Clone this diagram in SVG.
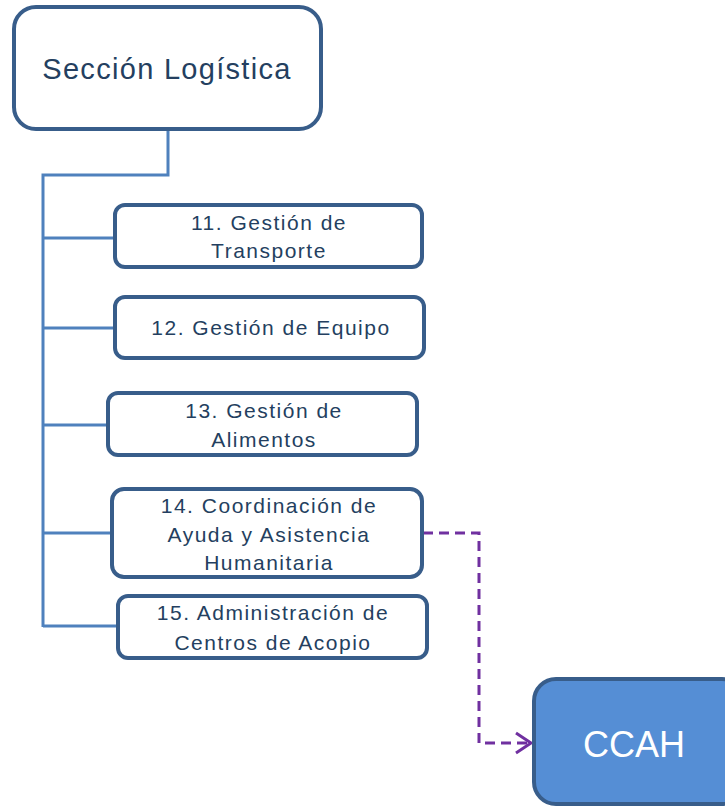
<svg xmlns="http://www.w3.org/2000/svg" width="725" height="808" viewBox="0 0 725 808">
<style>
.box{fill:#fff;stroke:#385D8A;stroke-width:4}
.t{font-family:"Liberation Sans",Arial,sans-serif;fill:#243F60;text-anchor:middle}
.s{font-size:21px;letter-spacing:1.5px}
.ln{fill:none;stroke:#4F81BD;stroke-width:3}
.dash{fill:none;stroke:#7030A0;stroke-width:3;stroke-dasharray:10,6}
</style>
<defs>
<marker id="arr" markerWidth="24" markerHeight="26" refX="17" refY="12" orient="auto" markerUnits="userSpaceOnUse">
<path d="M2,2 L17,12 L2,22" fill="none" stroke="#7030A0" stroke-width="3"/>
</marker>
</defs>
<g id="connectors">
<path class="ln" d="M168,130 V175 H43 V627"/>
<path class="ln" d="M43,238 H115"/>
<path class="ln" d="M43,328 H115"/>
<path class="ln" d="M43,425 H108"/>
<path class="ln" d="M43,533 H112"/>
<path class="ln" d="M43,626 H118"/>
<path class="dash" d="M423,533 H479 V743 H531" marker-end="url(#arr)"/>
</g>
<g id="seccion">
<rect class="box" x="14" y="7" width="307" height="122" rx="22"/>
<text class="t" x="167" y="79" font-size="29" letter-spacing="1.3">Sección Logística</text>
</g>
<g id="n11">
<rect class="box" x="115" y="205" width="307" height="62" rx="10"/>
<text class="t s" x="269" y="230">11. Gestión de</text>
<text class="t s" x="269" y="258">Transporte</text>
</g>
<g id="n12">
<rect class="box" x="115" y="297" width="309" height="61" rx="10"/>
<text class="t s" x="271" y="335">12. Gestión de Equipo</text>
</g>
<g id="n13">
<rect class="box" x="108" y="393" width="309" height="62" rx="10"/>
<text class="t s" x="264" y="418">13. Gestión de</text>
<text class="t s" x="264" y="447">Alimentos</text>
</g>
<g id="n14">
<rect class="box" x="112" y="489" width="310" height="88" rx="12"/>
<text class="t s" x="269" y="513">14. Coordinación de</text>
<text class="t s" x="269" y="542">Ayuda y Asistencia</text>
<text class="t s" x="269" y="570">Humanitaria</text>
</g>
<g id="n15">
<rect class="box" x="118" y="596" width="309" height="62" rx="10"/>
<text class="t s" x="273" y="620">15. Administración de</text>
<text class="t s" x="273" y="650">Centros de Acopio</text>
</g>
<g id="ccah">
<rect x="534" y="679" width="210" height="125" rx="22" fill="#558ED5" stroke="#385D8A" stroke-width="4"/>
<text x="634" y="757" font-family="Liberation Sans,Arial,sans-serif" font-size="36" fill="#fff" text-anchor="middle">CCAH</text>
</g>
</svg>
